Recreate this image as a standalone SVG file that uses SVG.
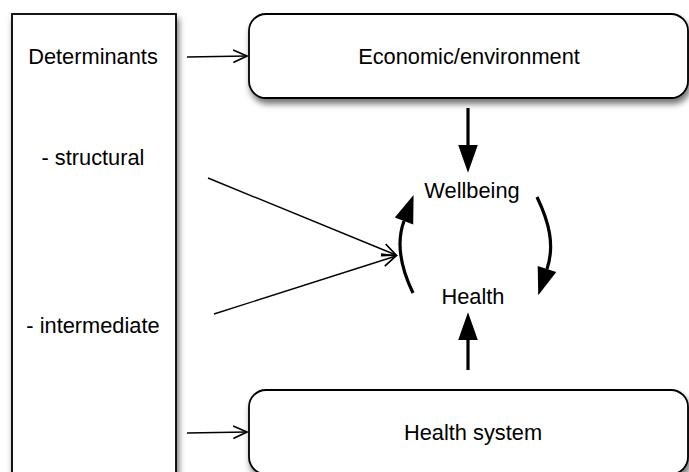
<svg xmlns="http://www.w3.org/2000/svg" width="689" height="472" viewBox="0 0 689 472">
<defs>
<style>
.box{fill:#fff;stroke:#000;stroke-width:1.8;filter:url(#sh)}
.t{font-family:"Liberation Sans",Arial,sans-serif;font-size:21.8px;fill:#000;text-anchor:middle}
.thin{fill:none;stroke:#000;stroke-width:1.4;marker-end:url(#open)}
.thick{fill:none;stroke:#000;stroke-width:3.2;marker-end:url(#solid)}
</style>
<filter id="sh" x="-20%" y="-20%" width="140%" height="150%">
<feDropShadow dx="2" dy="5" stdDeviation="3" flood-color="#000" flood-opacity="0.55"/>
</filter>
<marker id="open" markerUnits="userSpaceOnUse" markerWidth="20" markerHeight="20" refX="0" refY="0" viewBox="-12 -8 14 16" orient="auto" overflow="visible">
<path d="M-11,-5 L0,0 L-11,5" fill="none" stroke="#000" stroke-width="1.4"/>
</marker>
<marker id="solid" markerUnits="userSpaceOnUse" markerWidth="30" markerHeight="30" refX="0" refY="0" viewBox="0 -10 26 20" orient="auto" overflow="visible">
<path d="M0,-8.5 L24,0 L0,8.5 z" fill="#000"/>
</marker>
</defs>
<rect width="689" height="472" fill="#fff"/>
<g id="determinants">
<rect class="box" x="12" y="14" width="164" height="480"/>
<text class="t" x="93" y="64">Determinants</text>
<text class="t" x="93" y="165">- structural</text>
<text class="t" x="93" y="333">- intermediate</text>
</g>
<g id="economic">
<rect class="box" x="249" y="14" width="439" height="84" rx="17"/>
<text class="t" x="469" y="64">Economic/environment</text>
</g>
<g id="healthsystem">
<rect class="box" x="249" y="390" width="439" height="84" rx="17"/>
<text class="t" x="473" y="440">Health system</text>
</g>
<g id="wellbeing">
<text class="t" x="472" y="198">Wellbeing</text>
</g>
<g id="health">
<text class="t" x="473" y="304">Health</text>
</g>
<g id="connectors">
<path class="thin" d="M187,57 L247,56"/>
<path class="thin" d="M187,433 L247,432"/>
<path class="thin" d="M208,178 L396,255"/>
<path class="thin" d="M214,314 L396,256"/>
<path class="thick" d="M468,108 L468,145"/>
<path class="thick" d="M468,370 L468,340"/>
<path class="thick" d="M413,293 C398,262 397,240 404,221"/>
<path class="thick" d="M537,197 C549,222 555,245 547,269"/>
</g>
</svg>
